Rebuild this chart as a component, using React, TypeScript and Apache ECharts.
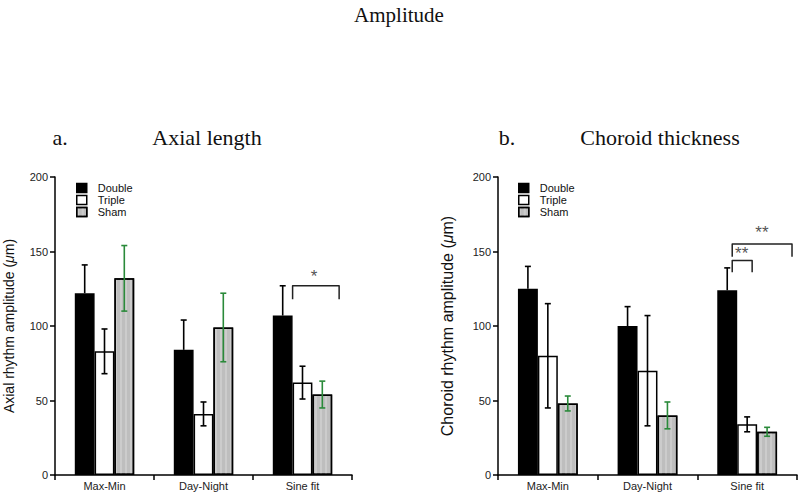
import { useEffect, useRef } from "react";
import * as echarts from "echarts";

const categories = ["Max-Min", "Day-Night", "Sine fit"];
const groups = ["Double", "Triple", "Sham"];
const yTicks = [0, 50, 100, 150, 200];

// Axial length (µm): means and SEM
const axialDouble = [122, 84, 107];
const axialDoubleErr = [19, 20, 20];
const axialTriple = [83, 41, 62];
const axialTripleErr = [15, 8, 11];
const axialSham = [132, 99, 54];
const axialShamErr = [22, 23, 9];

// Choroid thickness (µm): means and SEM
const choroidDouble = [125, 100, 124];
const choroidDoubleErr = [15, 13, 15];
const choroidTriple = [80, 70, 34];
const choroidTripleErr = [35, 37, 5];
const choroidSham = [48, 40, 29];
const choroidShamErr = [5, 9, 3];

// significance brackets: [category, from, to (band fractions), top, bottom, label x, label y]
const axialBrackets = [[2, -0.1, 0.37, 127, 118, 0.116, 133]];
const axialBracketLabels = ["*"];
const choroidBrackets = [
  [2, -0.15, 0.05, 144, 136, -0.055, 148.5],
  [2, -0.15, 0.45, 155, 146.5, 0.148, 163],
];
const choroidBracketLabels = ["**", "**"];

const SANS = "'Liberation Sans', Arial, Helvetica, sans-serif";
const SERIF = "'Liberation Serif', 'Times New Roman', serif";
const GREEN = "#2a8a3a";

const stripes = {
  symbol: "rect",
  symbolSize: 1,
  color: "rgba(255,255,255,0.22)",
  dashArrayX: [2, 3],
  dashArrayY: [10, 0],
  rotation: 0,
};

const barStyles = [
  { color: "#000", borderColor: "#000", borderWidth: 1.5 },
  { color: "#fff", borderColor: "#000", borderWidth: 1.5 },
  { color: "#bebebe", borderColor: "#000", borderWidth: 1.5, decal: stripes },
];

function errorRows(means: number[][], errs: number[][]) {
  const rows: number[][] = [];
  means.forEach((m, k) => {
    m.forEach((v, i) => {
      const lo = k === 0 ? v : v - errs[k][i];
      rows.push([i, k, lo, v + errs[k][i]]);
    });
  });
  return rows;
}

export default function App() {
  const chartRef = useRef<HTMLDivElement>(null);

  useEffect(() => {
    if (!chartRef.current) return;
    const chart = echarts.init(chartRef.current, null, { renderer: "svg" });

    const panels = [
      {
        means: [axialDouble, axialTriple, axialSham],
        errs: [axialDoubleErr, axialTripleErr, axialShamErr],
        brackets: axialBrackets,
        labels: axialBracketLabels,
      },
      {
        means: [choroidDouble, choroidTriple, choroidSham],
        errs: [choroidDoubleErr, choroidTripleErr, choroidShamErr],
        brackets: choroidBrackets,
        labels: choroidBracketLabels,
      },
    ];

    const series: any[] = [];
    panels.forEach((p, gi) => {
      groups.forEach((g, k) => {
        series.push({
          type: "bar",
          name: g,
          xAxisIndex: gi,
          yAxisIndex: gi,
          data: p.means[k],
          barGap: "0%",
          barCategoryGap: "40%",
          itemStyle: barStyles[k],
          emphasis: { disabled: true },
        });
      });
      series.push({
        type: "custom",
        xAxisIndex: gi,
        yAxisIndex: gi,
        encode: { x: 0, y: [2, 3] },
        data: errorRows(p.means, p.errs),
        z: 5,
        renderItem: (_params: any, api: any) => {
          const cat = api.value(0);
          const k = api.value(1);
          const band = api.size([1, 0])[0];
          const cx = api.coord([cat, 0])[0] + (k - 1) * band * 0.2;
          const yHi = api.coord([cat, api.value(3)])[1];
          const yLo = api.coord([cat, api.value(2)])[1];
          const stroke = k === 2 ? GREEN : "#000";
          const style = { stroke, lineWidth: 1.6 };
          const children: any[] = [
            { type: "line", shape: { x1: cx, y1: yLo, x2: cx, y2: yHi }, style },
            { type: "line", shape: { x1: cx - 3, y1: yHi, x2: cx + 3, y2: yHi }, style },
          ];
          if (k !== 0) {
            children.push({ type: "line", shape: { x1: cx - 3, y1: yLo, x2: cx + 3, y2: yLo }, style });
          }
          return { type: "group", children };
        },
      });
      series.push({
        type: "custom",
        xAxisIndex: gi,
        yAxisIndex: gi,
        encode: { x: 0, y: [3, 4] },
        data: p.brackets,
        z: 5,
        renderItem: (params: any, api: any) => {
          const cat = api.value(0);
          const band = api.size([1, 0])[0];
          const c = api.coord([cat, 0])[0];
          const x0 = c + api.value(1) * band;
          const x1 = c + api.value(2) * band;
          const yTop = api.coord([cat, api.value(3)])[1];
          const yBot = api.coord([cat, api.value(4)])[1];
          const lx = c + api.value(5) * band;
          const ly = api.coord([cat, api.value(6)])[1];
          return {
            type: "group",
            children: [
              {
                type: "polyline",
                shape: { points: [[x0, yBot], [x0, yTop], [x1, yTop], [x1, yBot]] },
                style: { stroke: "#222", lineWidth: 1.5, fill: "none", lineJoin: "round" },
              },
              {
                type: "text",
                x: lx,
                y: ly,
                style: {
                  text: p.labels[params.dataIndex],
                  fill: "#555",
                  font: `17px ${SANS}`,
                  align: "center",
                  verticalAlign: "middle",
                },
              },
            ],
          };
        },
      });
    });

    const yAxisBase = (name: string, size: number, gap: number) => ({
      type: "value",
      min: yTicks[0],
      max: yTicks[yTicks.length - 1],
      interval: yTicks[1] - yTicks[0],
      name,
      nameLocation: "middle",
      nameGap: gap,
      nameTextStyle: {
        rich: {
          n: { fontFamily: SANS, fontSize: size, color: "#111" },
          i: { fontFamily: SANS, fontSize: size, color: "#111", fontStyle: "italic" },
        },
      },
      axisLine: { show: true, lineStyle: { color: "#000", width: 1.5 } },
      axisTick: { show: true, inside: false, length: 5, lineStyle: { color: "#000", width: 1.5 } },
      axisLabel: { color: "#222", fontFamily: SANS, fontSize: 11, margin: 7 },
      splitLine: { show: false },
    });

    const xAxisBase = (gi: number) => ({
      type: "category",
      gridIndex: gi,
      data: categories,
      axisLine: { lineStyle: { color: "#000", width: 1.5 } },
      axisTick: { show: true, alignWithLabel: false, length: 5, lineStyle: { color: "#000", width: 1.5 } },
      axisLabel: { color: "#222", fontFamily: SANS, fontSize: 11, margin: 5 },
    });

    const legendBase = (left: number) => ({
      orient: "vertical",
      left,
      top: 182,
      itemWidth: 10,
      itemHeight: 9,
      itemGap: 0,
      icon: "rect",
      selectedMode: false,
      padding: 0,
      textStyle: { fontFamily: SANS, fontSize: 11, lineHeight: 12, color: "#111", padding: [0, 0, 0, 6] },
      data: groups.map((g, k) => ({ name: g, itemStyle: barStyles[k] })),
    });

    chart.setOption({
      animation: false,
      backgroundColor: "#fff",
      grid: [
        { left: 55, top: 177, width: 297, height: 298 },
        { left: 498, top: 177, width: 299, height: 298 },
      ],
      xAxis: [xAxisBase(0), xAxisBase(1)],
      yAxis: [
        { ...yAxisBase("{n|Axial rhythm amplitude (}{i|μ}{n|m)}", 14, 39), gridIndex: 0 },
        { ...yAxisBase("{n|Choroid rhythm amplitude (}{i|μ}{n|m)}", 16, 43), gridIndex: 1 },
      ],
      legend: [legendBase(76), legendBase(518)],
      graphic: [
        { type: "text", x: 399, y: 15, style: { text: "Amplitude", font: `21px ${SERIF}`, fill: "#111", align: "center", verticalAlign: "middle" } },
        { type: "text", x: 60, y: 137, style: { text: "a.", font: `22px ${SERIF}`, fill: "#111", align: "center", verticalAlign: "middle" } },
        { type: "text", x: 207, y: 137, style: { text: "Axial length", font: `22px ${SERIF}`, fill: "#111", align: "center", verticalAlign: "middle" } },
        { type: "text", x: 507, y: 137, style: { text: "b.", font: `22px ${SERIF}`, fill: "#111", align: "center", verticalAlign: "middle" } },
        { type: "text", x: 660, y: 137, style: { text: "Choroid thickness", font: `22px ${SERIF}`, fill: "#111", align: "center", verticalAlign: "middle" } },
      ],
      series,
    });

    return () => {
      chart.dispose();
    };
  }, []);

  return (
    <div
      ref={chartRef}
      style={{ position: "absolute", left: 0, top: 0, width: 800, height: 494 }}
    />
  );
}
